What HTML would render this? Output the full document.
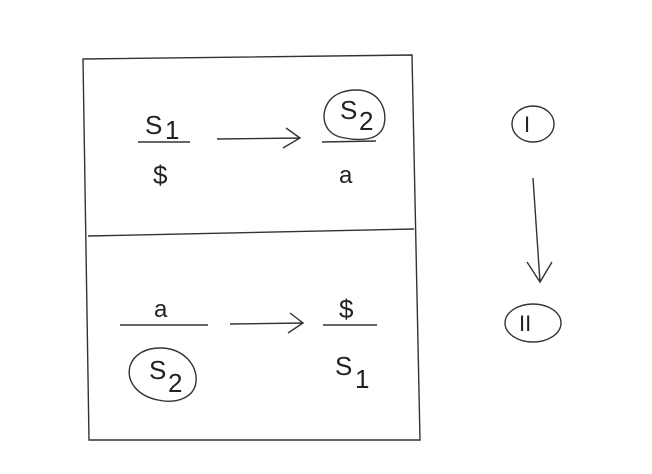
<!DOCTYPE html>
<html><head><style>
html,body{margin:0;padding:0;background:#fff;}
svg{display:block;}
text{font-family:"Liberation Sans",sans-serif;fill:#222;}
</style></head><body>
<svg width="652" height="474" viewBox="0 0 652 474" xmlns="http://www.w3.org/2000/svg">
<g fill="none" stroke="#333" stroke-width="1.4">
<path d="M83 59 L412 55 L420 440 L89 440 Z"/>
<path d="M88 236 L414 229"/>
<path d="M138 142 L190 142"/>
<path d="M217 139 L300 138 M286 128 L300 138 L283 148"/>
<path d="M322 142 L376 141"/>
<path d="M356 90 C378 90 388 108 384 125 C380 140 362 142 340 137 C322 132 320 112 330 100 C336 93 346 90 356 90 Z"/>
<path d="M120 325 L208 325"/>
<path d="M230 324 L303 323 M290 313 L303 323 L288 333"/>
<path d="M323 325 L377 325"/>
<path d="M160 348 C183 348 198 365 196 382 C194 398 176 404 158 400 C138 396 126 382 130 366 C134 354 146 348 160 348 Z"/>
<ellipse cx="533" cy="124" rx="21" ry="18"/>
<path d="M533 178 L540 282 M527 262 L540 282 L552 262"/>
<ellipse cx="533" cy="323" rx="28" ry="19"/>
</g>
<text x="145" y="134" font-size="26">S</text><text x="165" y="139" font-size="26">1</text>
<text x="153" y="184" font-size="26">$</text>
<text x="340" y="119" font-size="26">S</text><text x="359" y="130" font-size="26">2</text>
<text x="339" y="183" font-size="24">a</text>
<text x="154" y="317" font-size="24">a</text>
<text x="149" y="379" font-size="26">S</text><text x="168" y="392" font-size="26">2</text>
<text x="339" y="318" font-size="26">$</text>
<text x="335" y="375" font-size="26">S</text><text x="355" y="388" font-size="26">1</text>
<text x="524" y="132" font-size="22" font-family="Liberation Mono">I</text>
<text x="519" y="331" font-size="22" font-family="Liberation Mono">II</text>
</svg>
</body></html>
